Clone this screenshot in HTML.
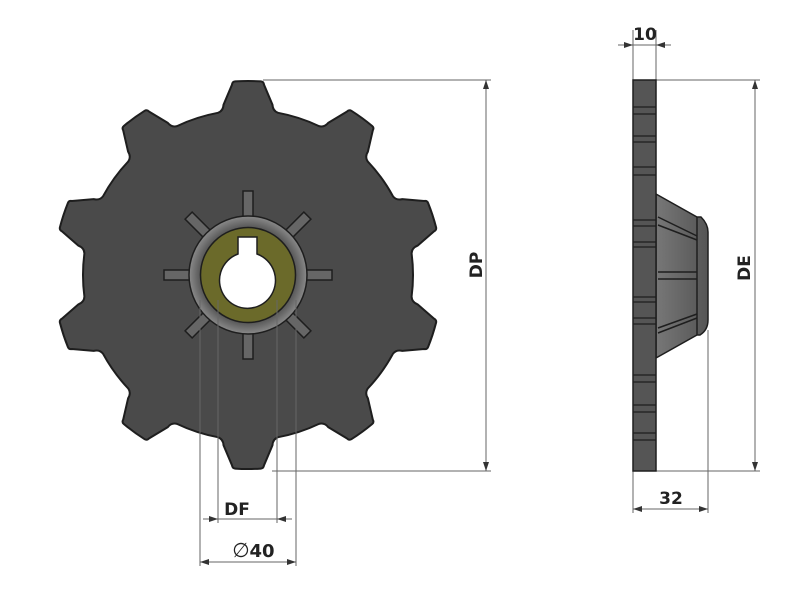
<!DOCTYPE html>
<html><head><meta charset="utf-8"><style>
html,body{margin:0;padding:0;background:#fff;}
svg{display:block}
text{font-family:"DejaVu Sans","Liberation Sans",sans-serif;font-weight:bold;fill:#222}
</style></head><body>
<svg id="s" width="800" height="600" viewBox="0 0 800 600" xmlns="http://www.w3.org/2000/svg">
<defs>
<radialGradient id="rg" cx="50%" cy="50%" r="50%">
<stop offset="80%" stop-color="#555"/><stop offset="100%" stop-color="#8a8a8a"/>
</radialGradient>
<linearGradient id="hg" x1="0" x2="1"><stop offset="0" stop-color="#777"/><stop offset="1" stop-color="#555"/></linearGradient>
</defs>
<path id="gear" fill="#4a4a4a" stroke="#1e1e1e" stroke-width="2" stroke-linejoin="round" d=""/>
<g id="spokes"></g>
<circle cx="248" cy="275" r="59" fill="url(#rg)" stroke="#1e1e1e" stroke-width="1.5"/>
<circle cx="248" cy="275" r="47.5" fill="#6b6a2a" stroke="#1e1e1e" stroke-width="1.5"/>
<path d="M238 254 L238 237 L257 237 L257 254 A28 28 0 1 1 238 254 Z" fill="#fff" stroke="#1e1e1e" stroke-width="1.5"/>

<g stroke="#666" stroke-width="1" fill="none">
<line x1="263" y1="80" x2="491" y2="80"/>
<line x1="272" y1="471" x2="491" y2="471"/>
<line x1="486" y1="80" x2="486" y2="471"/>
<line x1="218" y1="300" x2="218" y2="523"/>
<line x1="277" y1="300" x2="277" y2="523"/>
<line x1="203" y1="519" x2="292" y2="519"/>
<line x1="200" y1="300" x2="200" y2="566"/>
<line x1="296" y1="300" x2="296" y2="566"/>
<line x1="200" y1="562" x2="296" y2="562"/>
<line x1="633" y1="30" x2="633" y2="80"/>
<line x1="656" y1="30" x2="656" y2="80"/>
<line x1="618" y1="45" x2="671" y2="45"/>
<line x1="656" y1="80" x2="760" y2="80"/>
<line x1="656" y1="471" x2="760" y2="471"/>
<line x1="755" y1="80" x2="755" y2="471"/>
<line x1="633" y1="471" x2="633" y2="513"/>
<line x1="708" y1="330" x2="708" y2="513"/>
<line x1="633" y1="509" x2="708" y2="509"/>
</g>
<g fill="#333">
<path d="M486 80 l-3 9 h6z"/><path d="M486 471 l-3 -9 h6z"/>
<path d="M218 519 l-9 -3 v6z"/><path d="M277 519 l9 -3 v6z"/>
<path d="M200 562 l9 -3 v6z"/><path d="M296 562 l-9 -3 v6z"/>
<path d="M633 45 l-9 -3 v6z"/><path d="M656 45 l9 -3 v6z"/>
<path d="M755 80 l-3 9 h6z"/><path d="M755 471 l-3 -9 h6z"/>
<path d="M633 509 l9 -3 v6z"/><path d="M708 509 l-9 -3 v6z"/>
</g>
<text x="237" y="515" font-size="17" text-anchor="middle">DF</text>
<text x="241" y="557" font-size="20" text-anchor="middle" style="font-weight:normal">∅</text>
<text x="262" y="557" font-size="18" text-anchor="middle">40</text>
<text x="484" y="265" font-size="17" text-anchor="middle" transform="rotate(-90 484 265)" dy="-2">DP</text>
<text x="752" y="268" font-size="17" text-anchor="middle" transform="rotate(-90 752 268)" dy="-2">DE</text>
<text x="645" y="40" font-size="17" text-anchor="middle">10</text>
<text x="671" y="504" font-size="17" text-anchor="middle">32</text>

<path d="M656 194 L697 217 L701 217 Q708 224 708 232 L708 320 Q708 330 700 335 L697 335 L656 358 Z" fill="url(#hg)" stroke="#1e1e1e" stroke-width="1.5"/>
<line x1="697" y1="217" x2="697" y2="335" stroke="#1e1e1e" stroke-width="1.5"/>
<g stroke="#1e1e1e" stroke-width="1.5" fill="none">
<path d="M658 217 L697 236 M658 225 L697 240 M658 333 L697 318 M658 328 L697 314 M658 272 H697 M658 279 H697"/>
</g>
<rect x="633" y="80" width="23" height="391" fill="#555" stroke="#1e1e1e" stroke-width="1.5"/>
<g stroke="#1e1e1e" stroke-width="1.2" id="sl"></g>
</svg>
<script>
(function(){
var cx=248,cy=275,R=194,Rr=165,d="",N=10;
function P(r,a){return (cx+r*Math.cos(a)).toFixed(1)+" "+(cy+r*Math.sin(a)).toFixed(1);}
var deg=Math.PI/180;
for(var i=0;i<N;i++){
 var a=-90*deg+i*36*deg;
 d+=(i==0?"M":"L")+P(Rr,a-10.5*deg)+" Q"+P(Rr+1,a-8.6*deg)+" "+P(Rr+7,a-8.2*deg)
   +" L"+P(R-3,a-4.8*deg)+" Q"+P(R,a-4.6*deg)+" "+P(R,a-3.8*deg)
   +" A"+R+" "+R+" 0 0 1 "+P(R,a+3.8*deg)
   +" Q"+P(R,a+4.6*deg)+" "+P(R-3,a+4.8*deg)
   +" L"+P(Rr+7,a+8.2*deg)+" Q"+P(Rr+1,a+8.6*deg)+" "+P(Rr,a+10.5*deg);
 d+=" A"+Rr+" "+Rr+" 0 0 1 "+P(Rr,a+25.5*deg);
}
d+="Z";
document.getElementById("gear").setAttribute("d",d);
var g=document.getElementById("spokes"),s="";
for(var j=0;j<8;j++){
 s+='<rect x="-5" y="-84" width="10" height="30" fill="#666" stroke="#1e1e1e" stroke-width="1.5" transform="translate(248 275) rotate('+(j*45)+')"/>';
}
g.innerHTML=s;
var ys=[107,114,136,142,167,175,220,226,242,247,297,302,318,324,375,382,405,412,433,440],t="";
ys.forEach(function(y){t+='<line x1="633" x2="656" y1="'+y+'" y2="'+y+'"/>';});
document.getElementById("sl").innerHTML=t;
})();
</script>
</body></html>
